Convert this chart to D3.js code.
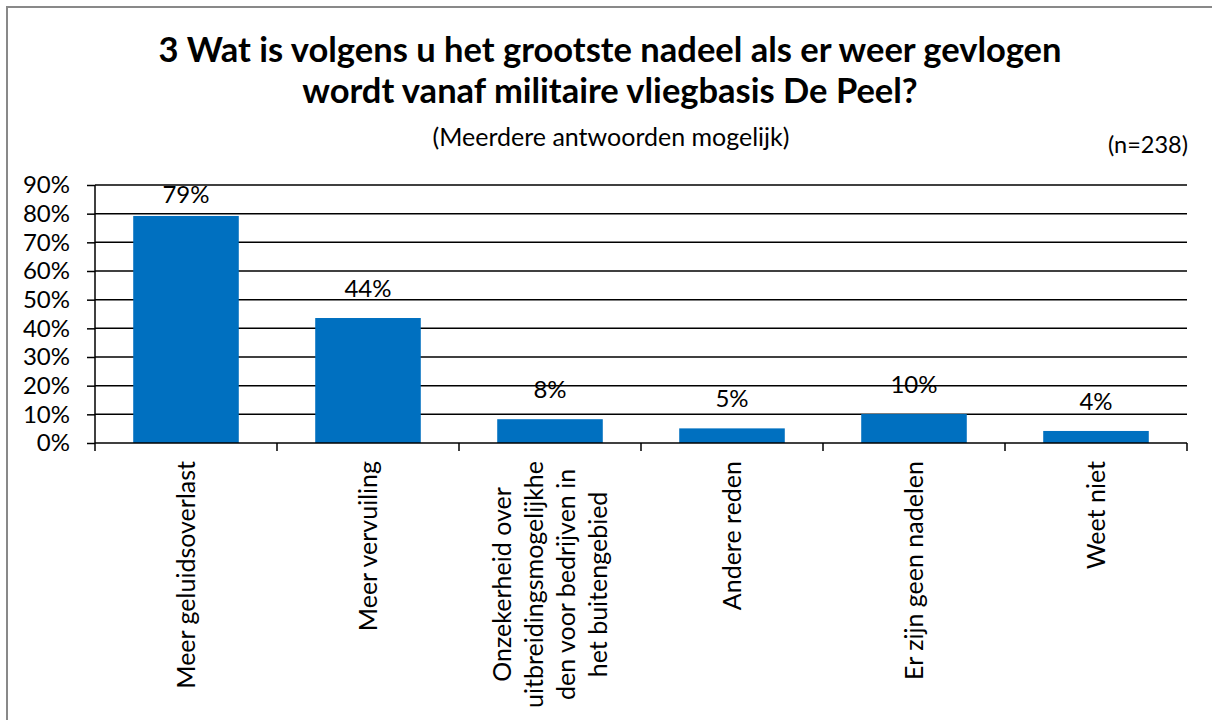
<!DOCTYPE html>
<html>
<head>
<meta charset="utf-8">
<script src="https://cdn.jsdelivr.net/npm/d3@7"></script>
<style>
  body { margin: 0; background: #fff; }
  text { font-family: Lato, "Noto Sans", sans-serif; fill: #000; }
</style>
</head>
<body>
<div id="target"></div>
<script>
const categories = [
  'Meer geluidsoverlast',
  'Meer vervuiling',
  'Onzekerheid over uitbreidingsmogelijkheden voor bedrijven in het buitengebied',
  'Andere reden',
  'Er zijn geen nadelen',
  'Weet niet'
];
// label lines as wrapped in the original
const categoryLines = [
  ['Meer geluidsoverlast'],
  ['Meer vervuiling'],
  ['Onzekerheid over', 'uitbreidingsmogelijkhe', 'den voor bedrijven in', 'het buitengebied'],
  ['Andere reden'],
  ['Er zijn geen nadelen'],
  ['Weet niet']
];
const values = [79.2, 43.6, 8.3, 5.1, 10.1, 4.2];
const yTicks = [0, 10, 20, 30, 40, 50, 60, 70, 80, 90];
const titleLines = [
  '3 Wat is volgens u het grootste nadeel als er weer gevlogen',
  'wordt vanaf militaire vliegbasis De Peel?'
];
const subtitle = '(Meerdere antwoorden mogelijk)';
const nLabel = '(n=238)';

const width = 1212;
const height = 720;
const margin = {top: 185, right: 25, bottom: 277, left: 95};

const svg = d3.select('#target')
  .append('svg')
  .attr('width', width)
  .attr('height', height);

// outer frame
svg.append('rect')
  .attr('x', 7).attr('y', 7)
  .attr('width', width + 20).attr('height', height + 20)
  .attr('fill', 'none')
  .attr('stroke', '#898989')
  .attr('stroke-width', 2);

const x = d3.scaleBand()
  .domain(categories)
  .range([margin.left, width - margin.right])
  .paddingInner(0.42)
  .paddingOuter(0.21);

const y = d3.scaleLinear()
  .domain([0, 90])
  .range([height - margin.bottom, margin.top]);

// titles
svg.append('text')
  .attr('x', 610).attr('y', 62)
  .attr('text-anchor', 'middle')
  .style('font-size', '34.5px')
  .style('font-weight', 'bold')
  .selectAll('tspan')
  .data(titleLines)
  .enter().append('tspan')
  .attr('x', 610)
  .attr('dy', (d, i) => i === 0 ? 0 : 41)
  .text(d => d);

svg.append('text')
  .attr('x', 611).attr('y', 146)
  .attr('text-anchor', 'middle')
  .style('font-size', '25px')
  .text(subtitle);

svg.append('text')
  .attr('x', 1188).attr('y', 153)
  .attr('text-anchor', 'end')
  .style('font-size', '23.5px')
  .text(nLabel);

// gridlines
svg.append('g')
  .selectAll('line')
  .data(yTicks.filter(d => d > 0))
  .enter().append('line')
  .attr('x1', margin.left).attr('x2', width - margin.right)
  .attr('y1', d => y(d)).attr('y2', d => y(d))
  .attr('stroke', '#000')
  .attr('stroke-width', 1.5);

// bars
svg.append('g')
  .selectAll('rect')
  .data(values)
  .enter().append('rect')
  .attr('x', (d, i) => x(categories[i]))
  .attr('width', x.bandwidth())
  .attr('y', d => y(d))
  .attr('height', d => y(0) - y(d))
  .attr('fill', '#0070C0');

// y axis
const yAxis = svg.append('g')
  .attr('transform', `translate(${margin.left},0)`)
  .call(d3.axisLeft(y).tickValues(yTicks).tickFormat(d => d + '%').tickSize(8).tickPadding(17));
yAxis.selectAll('path, line').attr('stroke', '#000').attr('stroke-width', 1.5);
yAxis.select('.domain').attr('d', `M0,${y(90)}V${y(0)}`);
yAxis.selectAll('text')
  .style('font-family', 'Lato, "Noto Sans", sans-serif')
  .style('font-size', '24px');

// x axis: ticks at category boundaries
const bounds = d3.range(categories.length + 1).map(i => x.range()[0] + i * x.step());
const xAxis = svg.append('g');
xAxis.append('line')
  .attr('x1', margin.left).attr('x2', width - margin.right)
  .attr('y1', y(0)).attr('y2', y(0))
  .attr('stroke', '#000').attr('stroke-width', 1.5);
xAxis.selectAll('.tick')
  .data(bounds)
  .enter().append('line')
  .attr('class', 'tick')
  .attr('x1', d => d).attr('x2', d => d)
  .attr('y1', y(0)).attr('y2', y(0) + 8)
  .attr('stroke', '#000').attr('stroke-width', 1.5);

// value labels
svg.append('g')
  .selectAll('text')
  .data(values)
  .enter().append('text')
  .attr('x', (d, i) => x(categories[i]) + x.bandwidth() / 2)
  .attr('y', d => Math.max(y(d) - 21, y(90) + 18))
  .attr('text-anchor', 'middle')
  .style('font-size', '24px')
  .text(d => Math.round(d) + '%');

// category labels, rotated
const labelTop = y(0) + 18;
const lineH = 32;
const labels = svg.append('g')
  .selectAll('g')
  .data(categoryLines)
  .enter().append('g')
  .attr('transform', (d, i) => `translate(${x(categories[i]) + x.bandwidth() / 2},${labelTop}) rotate(-90)`);

labels.each(function(lines) {
  const g = d3.select(this);
  const t = g.selectAll('text')
    .data(lines)
    .enter().append('text')
    .style('font-size', '25px')
    .attr('text-anchor', 'middle')
    .attr('dy', '0.35em')
    .attr('y', (d, i) => (i - (lines.length - 1) / 2) * lineH)
    .text(d => d);
  const maxLen = d3.max(t.nodes(), n => n.getComputedTextLength());
  t.attr('x', -maxLen / 2);
});
</script>
</body>
</html>
